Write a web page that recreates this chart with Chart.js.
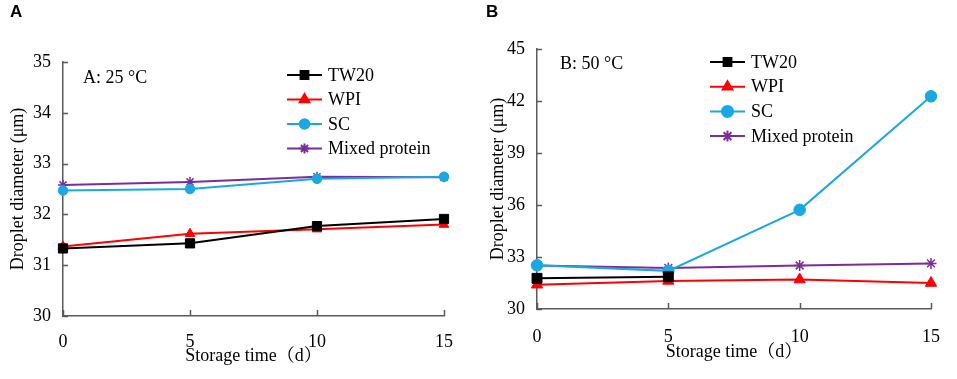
<!DOCTYPE html>
<html>
<head>
<meta charset="utf-8">
<script src="https://cdn.jsdelivr.net/npm/chart.js@4/dist/chart.umd.min.js"></script>
<style>
  body { margin: 0; background: #fff; width: 957px; height: 379px; position: relative; overflow: hidden; }
  .panel { position: absolute; top: 0; }
  .tag { position: absolute; top: 2px; font: bold 17px "Liberation Sans", Arial, sans-serif; color: #000; }
</style>
</head>
<body>
<div class="panel" style="left:0"><canvas id="chartA" width="480" height="379"></canvas></div>
<div class="panel" style="left:480px"><canvas id="chartB" width="477" height="379"></canvas></div>
<div class="tag" style="left:10px">A</div>
<div class="tag" style="left:486px">B</div>
<script>
// storage days
const days = [0, 5, 10, 15];
const seriesNames = ["TW20", "WPI", "SC", "Mixed protein"];

// A: 25 °C
const tw20A = [31.33, 31.43, 31.77, 31.91];
const wpiA = [31.37, 31.62, 31.71, 31.80];
const scA = [32.47, 32.50, 32.70, 32.74];
const mixedA = [32.58, 32.64, 32.74, 32.73];

// B: 50 °C (TW20 only measured up to day 5)
const tw20B = [31.77, 31.86, null, null];
const wpiB = [31.40, 31.62, 31.70, 31.50];
const scB = [32.52, 32.20, 35.72, 42.27];
const mixedB = [32.51, 32.37, 32.51, 32.63];

const serif = "'Liberation Serif', 'Times New Roman', 'Noto Serif CJK SC', 'Noto Sans CJK SC', serif";
const axisColor = "#5a5a5a";

const colors = ["#000000", "#ff0000", "#1aa8e3", "#7b2d9c"];
const shapes = ["rect", "triangle", "circle", "star"];

function makeDatasets(lists, radii) {
  return lists.map((vals, i) => ({
    label: seriesNames[i],
    data: vals,
    borderColor: colors[i],
    backgroundColor: colors[i],
    pointBackgroundColor: colors[i],
    pointBorderColor: colors[i],
    pointStyle: shapes[i],
    pointRadius: radii[i],
    pointBorderWidth: i == 3 ? 1.5 : 1,
    borderWidth: 2,
    tension: 0,
    spanGaps: false
  }));
}

// ticks pointing into the plot, like the original
const innerTicks = {
  id: "innerTicks",
  afterDraw(chart) {
    const ctx = chart.ctx;
    const area = chart.chartArea;
    const xs = chart.scales.x, ys = chart.scales.y;
    ctx.save();
    ctx.strokeStyle = axisColor;
    ctx.lineWidth = 1.5;
    ctx.beginPath();
    ys.ticks.forEach((t, i) => {
      const py = Math.round(ys.getPixelForTick(i)) + 0.5;
      ctx.moveTo(area.left, py);
      ctx.lineTo(area.left + 5, py);
    });
    xs.ticks.forEach((t, i) => {
      const px = Math.round(xs.getPixelForTick(i)) + 0.5;
      ctx.moveTo(px, area.bottom);
      ctx.lineTo(px, area.bottom - 6);
    });
    ctx.stroke();
    ctx.restore();
  }
};

// legend drawn inside the plot: short line with the marker in the middle
const lineLegend = {
  id: "lineLegend",
  afterDraw(chart, args, opts) {
    const ctx = chart.ctx;
    ctx.save();
    ctx.font = "18px " + serif;
    ctx.textBaseline = "middle";
    chart.data.datasets.forEach((ds, i) => {
      const y = opts.y + i * opts.gap;
      ctx.strokeStyle = ds.borderColor;
      ctx.lineWidth = 2;
      ctx.beginPath();
      ctx.moveTo(opts.x, y);
      ctx.lineTo(opts.x + 35, y);
      ctx.stroke();
      Chart.helpers.drawPoint(ctx, {
        pointStyle: ds.pointStyle,
        radius: Math.min(ds.pointRadius, 5.5),
        borderWidth: ds.pointBorderWidth,
        rotation: 0
      }, opts.x + 17.5, y);
      ctx.fillStyle = ds.borderColor;
      if (ds.pointStyle !== "star") ctx.fill();
      ctx.fillStyle = "#000";
      ctx.fillText(ds.label, opts.x + 41, y + 1);
    });
    ctx.fillText(opts.note, opts.noteX, opts.noteY);
    ctx.restore();
  }
};

function makeChart(id, lists, yMin, yMax, step, geo) {
  return new Chart(document.getElementById(id), {
    type: "line",
    data: { labels: days, datasets: makeDatasets(lists, geo.radii) },
    plugins: [innerTicks, lineLegend],
    options: {
      responsive: false,
      animation: false,
      layout: { padding: { top: geo.top, right: geo.right, left: 0, bottom: 0 } },
      plugins: {
        legend: { display: false },
        tooltip: { enabled: false },
        lineLegend: geo.legend
      },
      scales: {
        x: {
          offset: false,
          grid: { display: false, drawTicks: false },
          border: { color: axisColor, width: 1.5 },
          ticks: { color: "#000", font: { family: serif, size: 18 }, padding: geo.xPad, maxRotation: 0 },
          title: { display: true, text: "Storage time（d）", color: "#000", font: { family: serif, size: 18 }, padding: { top: 0, bottom: geo.titleBottom } },
          afterFit(scale) { scale.height = geo.xHeight; }
        },
        y: {
          min: yMin, max: yMax,
          grid: { display: false, drawTicks: false },
          border: { color: axisColor, width: 1.5 },
          ticks: { stepSize: step, color: "#000", font: { family: serif, size: 18 }, padding: 12 },
          title: { display: true, text: "Droplet diameter (μm)", color: "#000", font: { family: serif, size: 18 }, padding: { top: 7, bottom: 0 } },
          afterFit(scale) { scale.width = geo.yWidth; }
        }
      }
    }
  });
}

makeChart("chartA", [tw20A, wpiA, scA, mixedA], 30, 35, 1, {
  top: 62, right: 36, yWidth: 63, xHeight: 63, xPad: 15, titleBottom: 12,
  radii: [6.5, 5.5, 4.8, 5],
  legend: { x: 287, y: 75, gap: 24.5, note: "A: 25 °C", noteX: 83, noteY: 78 }
});

makeChart("chartB", [tw20B, wpiB, scB, mixedB], 30, 45, 3, {
  top: 49, right: 23, yWidth: 57, xHeight: 70, xPad: 17, titleBottom: 16,
  radii: [7, 6.5, 5.8, 5.5],
  legend: { x: 230, y: 62, gap: 24.7, note: "B: 50 °C", noteX: 80, noteY: 64 }
});
</script>
</body>
</html>
